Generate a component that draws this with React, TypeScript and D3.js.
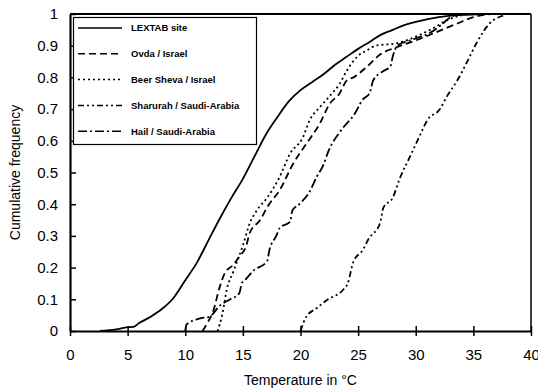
import * as d3 from "d3";
import { useEffect, useRef } from "react";

// temperature (°C) / cumulative frequency pairs
const lextabT = [2.6, 4, 5, 5.5, 6, 7, 8, 9, 10, 11, 12, 13, 14, 15, 16, 17, 18, 19, 20, 21, 22, 23, 24, 25, 26, 27, 28, 29, 30, 32, 34, 36];
const lextabF = [0, 0.005, 0.012, 0.013, 0.025, 0.045, 0.07, 0.105, 0.16, 0.215, 0.285, 0.355, 0.42, 0.48, 0.55, 0.62, 0.675, 0.725, 0.76, 0.785, 0.81, 0.84, 0.865, 0.89, 0.912, 0.935, 0.95, 0.965, 0.975, 0.99, 0.997, 1];

const ovdaT = [11.5, 12, 12.4, 13, 13.4, 14.2, 14.7, 15.3, 15.6, 16.5, 17.1, 18.2, 19.4, 20.5, 21.7, 22.5, 23.4, 24, 24.6, 25.8, 26.9, 28.4, 30.1, 31.8, 33.6, 35, 36.5];
const ovdaF = [0, 0.03, 0.06, 0.14, 0.18, 0.21, 0.235, 0.27, 0.31, 0.35, 0.39, 0.445, 0.53, 0.59, 0.656, 0.715, 0.75, 0.79, 0.8, 0.835, 0.872, 0.896, 0.918, 0.943, 0.97, 0.99, 1];

const beerShevaT = [12.8, 13.2, 13.6, 14.2, 15, 15.6, 16.2, 17.1, 18.2, 19.1, 20.2, 20.8, 21.7, 22.5, 23.4, 24, 24.9, 25.8, 26.5, 28.4, 30.1, 31.5, 33, 34.5];
const beerShevaF = [0, 0.05, 0.13, 0.19, 0.27, 0.34, 0.38, 0.42, 0.487, 0.56, 0.61, 0.665, 0.707, 0.74, 0.78, 0.82, 0.865, 0.886, 0.9, 0.908, 0.93, 0.955, 0.985, 1];

const sharurahT = [20, 20.5, 21.4, 22.3, 23.7, 24.1, 24.6, 25.4, 25.9, 26.9, 27.2, 28, 28.6, 29.5, 30.4, 31, 32.1, 32.7, 33.6, 34.4, 35.3, 36.4, 37.6];
const sharurahF = [0, 0.045, 0.072, 0.098, 0.13, 0.15, 0.22, 0.255, 0.29, 0.34, 0.39, 0.42, 0.48, 0.55, 0.62, 0.665, 0.7, 0.74, 0.79, 0.845, 0.91, 0.97, 0.995];

const hailT = [10, 10.1, 11.3, 12.1, 13, 13.9, 14.7, 14.9, 15.3, 15.9, 17.1, 17.3, 17.9, 18.2, 19.1, 19.3, 19.9, 20.8, 21.4, 22, 22.4, 23.5, 24.7, 25.4, 26, 26.3, 27.2, 27.8, 28, 28.4, 29.8, 31.2, 32.2, 33, 34];
const hailF = [0, 0.02, 0.04, 0.045, 0.08, 0.1, 0.12, 0.15, 0.165, 0.19, 0.22, 0.255, 0.3, 0.325, 0.345, 0.38, 0.4, 0.44, 0.486, 0.525, 0.565, 0.632, 0.685, 0.73, 0.75, 0.79, 0.82, 0.835, 0.865, 0.9, 0.92, 0.94, 0.965, 0.99, 1];

const seriesNames = ["LEXTAB site", "Ovda / Israel", "Beer Sheva / Israel", "Sharurah / Saudi-Arabia", "Hail / Saudi-Arabia"];
const xTicks = [0, 5, 10, 15, 20, 25, 30, 35, 40];
const yTicks = [0, 0.1, 0.2, 0.3, 0.4, 0.5, 0.6, 0.7, 0.8, 0.9, 1];

const dashes = ["none", "7,4", "2,3", "6,3,2,3,2,3", "9,3,2,3"];

const W = 538;
const H = 392;

export default function App() {
  const ref = useRef<SVGSVGElement | null>(null);

  useEffect(() => {
    document.body.style.margin = "0";
    const svg = d3.select(ref.current);
    svg.selectAll("*").remove();

    const x = d3.scaleLinear().domain([0, 40]).range([70, 531]);
    const y = d3.scaleLinear().domain([0, 1]).range([331, 14]);

    const series = [
      [lextabT, lextabF],
      [ovdaT, ovdaF],
      [beerShevaT, beerShevaF],
      [sharurahT, sharurahF],
      [hailT, hailF],
    ].map(([ts, fs], i) => ({
      name: seriesNames[i],
      dash: dashes[i],
      pts: ts.map((t, j) => [t, fs[j]] as [number, number]),
    }));

    const font = "'Liberation Sans', Arial, sans-serif";

    // frame: top + right border
    svg.append("line").attr("x1", x(0)).attr("x2", x(40)).attr("y1", y(1)).attr("y2", y(1))
      .attr("stroke", "#000").attr("stroke-width", 1.8);
    svg.append("line").attr("x1", x(40)).attr("x2", x(40)).attr("y1", y(1)).attr("y2", y(0))
      .attr("stroke", "#000").attr("stroke-width", 1.5);

    // curves
    const line = d3.line<[number, number]>()
      .x((d) => x(d[0]))
      .y((d) => y(d[1]))
      .curve(d3.curveMonotoneX);

    svg.append("g")
      .selectAll("path")
      .data(series)
      .join("path")
      .attr("d", (d) => line(d.pts))
      .attr("fill", "none")
      .attr("stroke", "#000")
      .attr("stroke-width", 1.8)
      .attr("stroke-dasharray", (d) => d.dash);

    // x axis
    const xAxis = svg.append("g").attr("transform", `translate(0,${y(0)})`)
      .call(d3.axisBottom(x).tickValues(xTicks).tickSizeInner(5).tickSizeOuter(0).tickPadding(13));
    xAxis.select(".domain").attr("stroke-width", 2.2);
    xAxis.selectAll(".tick line").attr("y1", -5).attr("stroke-width", 1.5);
    xAxis.selectAll("text").attr("font-family", font).attr("font-size", 15).attr("fill", "#000");

    // y axis
    const yAxis = svg.append("g").attr("transform", `translate(${x(0)},0)`)
      .call(d3.axisLeft(y).tickValues(yTicks).tickFormat(d3.format("~g")).tickSizeInner(4).tickSizeOuter(0).tickPadding(8));
    yAxis.select(".domain").attr("stroke-width", 2.2);
    yAxis.selectAll(".tick line").attr("x2", 6).attr("stroke-width", 1.5);
    yAxis.selectAll("text").attr("font-family", font).attr("font-size", 15).attr("fill", "#000");

    // axis titles
    svg.append("text")
      .attr("x", (x(0) + x(40)) / 2)
      .attr("y", 385)
      .attr("text-anchor", "middle")
      .attr("font-family", font)
      .attr("font-size", 14)
      .text("Temperature in °C");

    svg.append("text")
      .attr("transform", `translate(20,${(y(0) + y(1)) / 2}) rotate(-90)`)
      .attr("text-anchor", "middle")
      .attr("font-family", font)
      .attr("font-size", 14)
      .text("Cumulative frequency");

    // legend
    const lg = svg.append("g");
    lg.append("rect")
      .attr("x", 73.5).attr("y", 17.5).attr("width", 183).attr("height", 127)
      .attr("fill", "#fff").attr("stroke", "#000").attr("stroke-width", 1.2);

    const rows = lg.selectAll("g.row")
      .data(series)
      .join("g")
      .attr("class", "row")
      .attr("transform", (_, i) => `translate(0,${28 + i * 25.8})`);

    rows.append("line")
      .attr("x1", 78).attr("x2", 122)
      .attr("stroke", "#000").attr("stroke-width", 1.5)
      .attr("stroke-dasharray", (d) => d.dash);

    rows.append("text")
      .attr("x", 131)
      .attr("dy", "0.35em")
      .attr("font-family", font)
      .attr("font-size", 9.5)
      .attr("font-weight", "bold")
      .text((d) => d.name);
  }, []);

  return <svg ref={ref} width={W} height={H} style={{ display: "block", background: "#fff" }} />;
}
